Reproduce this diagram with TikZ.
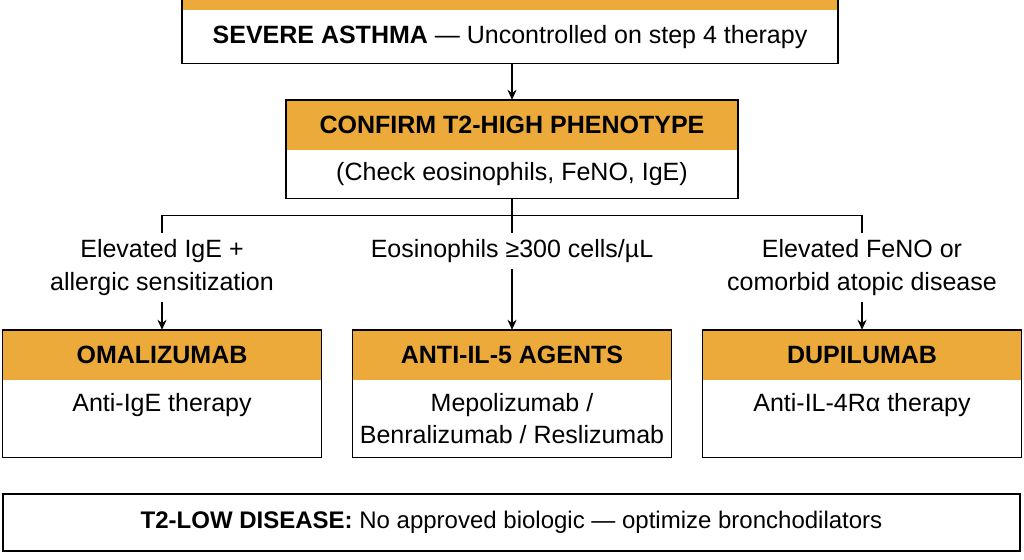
\documentclass[tikz,border=0pt]{standalone}
\usepackage{fontspec}
\setmainfont{Liberation Sans}
\usetikzlibrary{arrows.meta,positioning}
\definecolor{hdrorange}{RGB}{236,170,58}
\tikzset{
  hdr/.style={fill=hdrorange,minimum height=50pt,inner sep=0pt,font=\fontsize{25}{32}\selectfont\bfseries},
  bodybox/.style={fill=white,inner sep=0pt,align=center},
  frame/.style={draw=black,line width=1.5pt},
  cond/.style={align=center,inner sep=6pt},
  conn/.style={line width=1.3pt}
}

\begin{document}
\begin{tikzpicture}[x=1pt,y=1pt,>={Stealth[length=10pt,width=9pt]},font=\fontsize{25}{33}\selectfont]
\clip (0,0) rectangle (1024,-559);
\node[hdr,minimum width=656pt] (sahdr) at (510,15) {};
\node[bodybox,minimum width=656pt,minimum height=53pt,below=0pt of sahdr] (sabody) {\textbf{SEVERE ASTHMA} — Uncontrolled on step 4 therapy};
\draw[frame] (sahdr.north west) rectangle (sabody.south east);

\node[hdr,minimum width=452pt] (cfmhdr) at (512,-125) {CONFIRM T2-HIGH PHENOTYPE};
\node[bodybox,minimum width=452pt,minimum height=48pt,below=0pt of cfmhdr] (cfmbody) {(Check eosinophils, FeNO, IgE)};
\draw[frame] (cfmhdr.north west) rectangle (cfmbody.south east);

\node[cond] (lblige) at (162,-267.5) {Elevated IgE +\\allergic sensitization};
\node[cond] (lbleos) at (512,-251) {Eosinophils ≥300 cells/µL};
\node[cond] (lblfeno) at (862,-267.5) {Elevated FeNO or\\comorbid atopic disease};

\node[hdr,minimum width=319pt] (omahdr) at (162,-355) {OMALIZUMAB};
\node[bodybox,minimum width=319pt,minimum height=77pt,below=0pt of omahdr,font=\fontsize{25}{32}\selectfont] (omabody) {Anti-IgE therapy\\\vphantom{B/}};
\draw[frame] (omahdr.north west) rectangle (omabody.south east);

\node[hdr,minimum width=319pt] (il5hdr) at (512,-355) {ANTI-IL-5 AGENTS};
\node[bodybox,minimum width=319pt,minimum height=77pt,below=0pt of il5hdr,font=\fontsize{25}{32}\selectfont] (il5body) {Mepolizumab /\\Benralizumab / Reslizumab};
\draw[frame] (il5hdr.north west) rectangle (il5body.south east);

\node[hdr,minimum width=319pt] (dupihdr) at (862,-355) {DUPILUMAB};
\node[bodybox,minimum width=319pt,minimum height=77pt,below=0pt of dupihdr,font=\fontsize{25}{32}\selectfont] (dupibody) {Anti-IL-4Rα therapy\\\vphantom{B/}};
\draw[frame] (dupihdr.north west) rectangle (dupibody.south east);

\node[bodybox,frame,minimum width=1017pt,minimum height=57pt,font=\fontsize{24}{30}\selectfont] (t2low) at (511.5,-522.5) {\textbf{T2-LOW DISEASE:} No approved biologic — optimize bronchodilators};

\draw[conn,->] (cfmhdr.north |- sabody.south) -- (cfmhdr.north);
\path (cfmbody.south) ++(0,-17) coordinate (split);
\draw[conn] (cfmbody.south) -- (lbleos.north);
\draw[conn] (lblige.north) |- (split) -| (lblfeno.north);
\draw[conn,->] (lblige.south) -- (omahdr.north);
\draw[conn,->] (lbleos.south) -- (il5hdr.north);
\draw[conn,->] (lblfeno.south) -- (dupihdr.north);
\end{tikzpicture}
\end{document}
